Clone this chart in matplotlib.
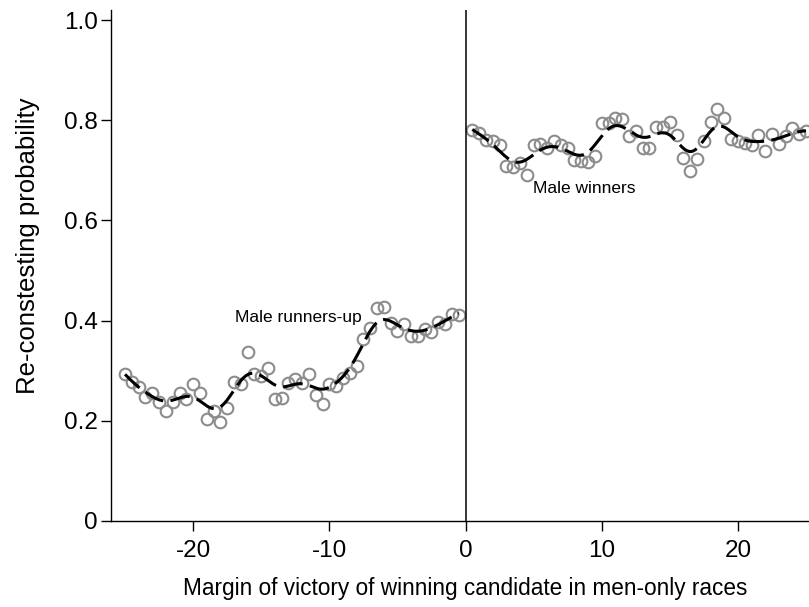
import numpy as np
import matplotlib
matplotlib.use('Agg')
import matplotlib.pyplot as plt

plt.rcParams['font.family'] = ['Liberation Sans', 'DejaVu Sans']

# binned re-contesting rates, 0.5-point bins of the winning margin
margin_left = np.arange(-25.0, 0.0, 0.5)
rate_left = [0.294, 0.278, 0.267, 0.247, 0.256, 0.237, 0.220, 0.237, 0.256, 0.243,
             0.273, 0.256, 0.203, 0.220, 0.198, 0.225, 0.278, 0.273, 0.338, 0.293,
             0.289, 0.306, 0.243, 0.245, 0.276, 0.283, 0.276, 0.293, 0.252, 0.234,
             0.274, 0.269, 0.286, 0.295, 0.309, 0.364, 0.385, 0.426, 0.428, 0.395,
             0.379, 0.393, 0.369, 0.369, 0.384, 0.377, 0.397, 0.393, 0.414, 0.412]
margin_right = np.arange(0.5, 25.5, 0.5)
rate_right = [0.781, 0.774, 0.760, 0.758, 0.750, 0.708, 0.706, 0.714, 0.690, 0.751,
              0.752, 0.744, 0.758, 0.750, 0.744, 0.721, 0.719, 0.716, 0.729, 0.794,
              0.795, 0.805, 0.802, 0.769, 0.778, 0.745, 0.745, 0.787, 0.787, 0.796,
              0.770, 0.725, 0.699, 0.722, 0.759, 0.797, 0.822, 0.804, 0.763, 0.759,
              0.755, 0.750, 0.771, 0.739, 0.773, 0.752, 0.768, 0.785, 0.773, 0.779]

x_ticks = [-20, -10, 0, 10, 20]
y_ticks = [0, 0.2, 0.4, 0.6, 0.8, 1.0]
y_ticklabels = ['0', '0.2', '0.4', '0.6', '0.8', '1.0']


def local_linear(x, y, bw=0.85, n=200):
    # gaussian-kernel local linear smoother, evaluated on a fine grid
    x = np.asarray(x, float)
    y = np.asarray(y, float)
    grid = np.linspace(x.min(), x.max(), n)
    fit = []
    for g in grid:
        w = np.exp(-0.5 * ((x - g) / bw) ** 2)
        X = np.column_stack([np.ones_like(x), x - g])
        W = X * w[:, None]
        beta = np.linalg.solve(X.T @ W, W.T @ y)
        fit.append(beta[0])
    return grid, np.array(fit)


fig = plt.figure(figsize=(8.09, 6.07), dpi=100)
ax = fig.add_axes([0.1372, 0.1417, 0.8628, 0.8418])

marker_kw = dict(marker='o', ls='none', ms=8.4, mfc='none', mec='#8c8c8c', mew=1.5)
ax.plot(margin_left, rate_left, **marker_kw)
ax.plot(margin_right, rate_right, **marker_kw)

for xs, ys in [(margin_left, rate_left), (margin_right, rate_right)]:
    gx, gy = local_linear(xs, ys)
    ax.plot(gx, gy, color='black', lw=2.2, dashes=(6.5, 2.4), zorder=3)

ax.axvline(0, color='black', lw=1.1)

ax.text(-16.9, 0.407, 'Male runners-up', fontsize=12.5, va='center', ha='left')
ax.text(4.95, 0.663, 'Male winners', fontsize=12.5, va='center', ha='left')

ax.set_xlim(-26.03, 25.22)
ax.set_ylim(0, 1.02)
ax.set_xticks(x_ticks)
ax.set_xticklabels([str(t) for t in x_ticks])
ax.set_yticks(y_ticks)
ax.set_yticklabels(y_ticklabels)
ax.tick_params(axis='both', labelsize=17.5, length=7.5, width=1.0, direction='out')
ax.tick_params(axis='x', pad=6)
ax.tick_params(axis='y', pad=2)

for side in ['top', 'right']:
    ax.spines[side].set_visible(False)
for side in ['left', 'bottom']:
    ax.spines[side].set_linewidth(1.0)

ax.set_xlabel('Margin of victory of winning candidate in men-only races', fontsize=16.3, labelpad=11)
ax.set_ylabel('Re-constesting probability', fontsize=18.5, labelpad=17)
ax.xaxis.label.set_x(0.508)
ax.yaxis.label.set_y(0.538)

plt.savefig('out.png', dpi=100)
